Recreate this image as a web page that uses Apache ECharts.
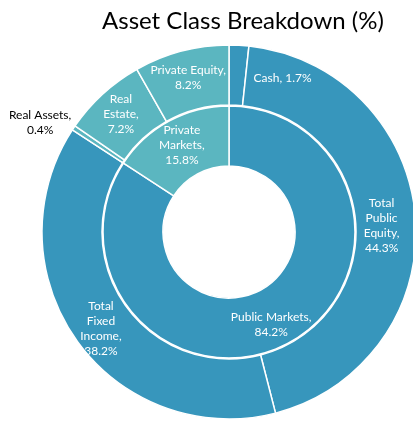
<!DOCTYPE html>
<html>
<head>
<meta charset="utf-8">
<script src="https://cdn.jsdelivr.net/npm/echarts@6/dist/echarts.min.js"></script>
<style>
    html, body { margin: 0; padding: 0; background: #fff; }
    #main { width: 413px; height: 425px; }
</style>
</head>
<body>
<div id="main"></div>
<script>
    // 数据
    var innerNames = ['Public Markets', 'Private Markets'];
    var innerLabels = ['Public Markets,', 'Private\nMarkets,'];
    var innerValues = [84.2, 15.8];

    var outerNames = ['Cash', 'Total Public Equity', 'Total Fixed Income', 'Real Assets', 'Real Estate', 'Private Equity'];
    var outerLabels = ['Cash,', 'Total\nPublic\nEquity,', 'Total\nFixed\nIncome,', 'Real Assets,', 'Real\nEstate,', 'Private Equity,'];
    var outerValues = [1.7, 44.3, 38.2, 0.4, 7.2, 8.2];
    var outerGroup = [0, 0, 0, 1, 1, 1];

    var colors = ['#3796bc', '#5bb6c0'];

    var innerData = innerNames.map(function (n, i) {
        var d = { name: n, value: innerValues[i], itemStyle: { color: colors[i] } };
        if (n === 'Public Markets') {
            d.label = { offset: [-5, 6] };
        }
        return d;
    });
    var outerData = outerNames.map(function (n, i) {
        var d = { name: n, value: outerValues[i], itemStyle: { color: colors[outerGroup[i]] } };
        if (n === 'Cash') {
            d.label = { formatter: outerLabels[i] + ' ' + outerValues[i] + '%', offset: [45, 6] };
        }
        if (n === 'Total Public Equity') {
            d.label = { offset: [-7, 5] };
        }
        if (n === 'Total Fixed Income') {
            d.label = { offset: [2, 3] };
        }
        if (n === 'Real Assets') {
            d.label = { color: '#000', offset: [-56, -20] };
        }
        return d;
    });

    var labelBase = {
        show: true,
        position: 'inside',
        color: '#fff',
        fontFamily: 'Lato',
        fontSize: 12,
        lineHeight: 15
    };

    var myChart = echarts.init(document.getElementById('main'));
    var option = {
        animation: false,
        title: {
            text: 'Asset Class Breakdown (%)',
            left: 97,
            top: 4,
            textStyle: { fontFamily: 'Lato', fontWeight: 'normal', fontSize: 24, color: '#000' }
        },
        series: [
            {
                name: 'inner',
                type: 'pie',
                center: [229, 232],
                radius: [66, 126],
                startAngle: 90,
                avoidLabelOverlap: false,
                itemStyle: { borderColor: '#fff', borderWidth: 1.5 },
                label: Object.assign({}, labelBase, {
                    formatter: function (p) {
                        return innerLabels[p.dataIndex] + '\n' + p.value + '%';
                    }
                }),
                labelLine: { show: false },
                data: innerData
            },
            {
                name: 'outer',
                type: 'pie',
                center: [229, 232],
                radius: [127, 187],
                startAngle: 90,
                avoidLabelOverlap: false,
                itemStyle: { borderColor: '#fff', borderWidth: 1.5 },
                label: Object.assign({}, labelBase, {
                    formatter: function (p) {
                        return outerLabels[p.dataIndex] + '\n' + p.value + '%';
                    }
                }),
                labelLine: { show: false },
                data: outerData
            }
        ]
    };
    myChart.setOption(option);
</script>
</body>
</html>
